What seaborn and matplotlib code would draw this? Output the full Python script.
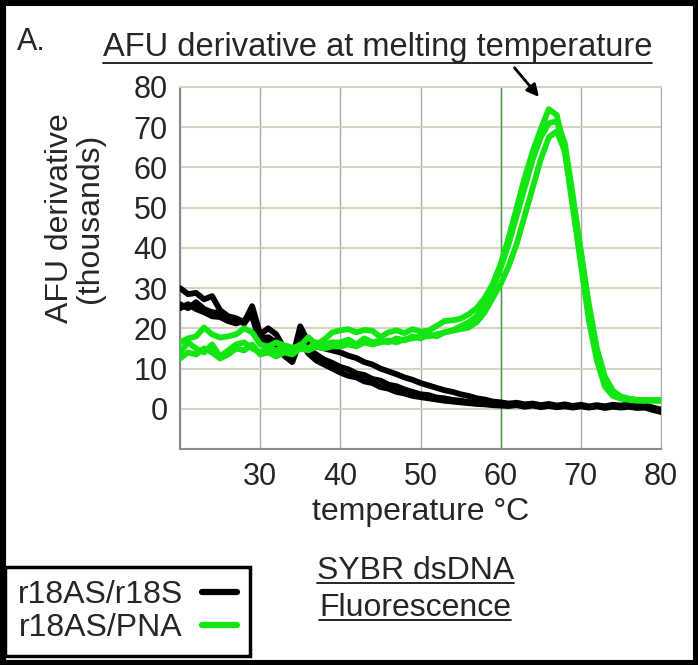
import pandas as pd
import seaborn as sns
from matplotlib import pyplot as plt
from matplotlib.lines import Line2D
from matplotlib.patches import Rectangle

# Temperature axis (degrees C), one reading per degree.
temps = list(range(20, 81))

# r18AS/r18S runs (black), AFU derivative in thousands.
r18s_a = [30, 28.5, 28.8, 27.2, 28, 24.5, 23, 22.5, 21.5, 25.5,
          18.5, 20, 18.5, 15, 12.5, 20.5, 16.5, 15.5, 15, 14.5,
          14, 13.2, 12.6, 11.6, 11, 10, 9.3, 8.6, 7.8, 7.2,
          6.4, 5.8, 5.2, 4.6, 4.2, 3.6, 3.2, 2.6, 2.3, 1.8,
          1.6, 1.3, 1.5, 1.1, 1.3, 0.9, 1.2, 0.8, 1.1, 0.7,
          1.0, 0.6, 0.9, 0.6, 1.0, 0.8, 1.1, 0.7, 0.9, 0.3, -0.2]
r18s_b = [26, 25, 26.5, 24.8, 24, 23.8, 22.5, 22.3, 21.2, 24,
          17.5, 17.8, 16.5, 14.5, 12, 19, 14.8, 13.5, 12.2, 11.4,
          10.4, 9.8, 8.8, 8.4, 7.4, 7, 6, 5.6, 4.8, 4.2,
          3.6, 3.4, 2.8, 2.6, 2.2, 2, 1.7, 1.5, 1.3, 1.1,
          1.0, 0.8, 1.1, 0.7, 1.0, 0.6, 0.9, 0.5, 0.8, 0.5,
          0.8, 0.4, 0.7, 0.5, 0.8, 0.5, 0.7, 0.4, 0.5, -0.1, -0.6]
r18s_c = [25, 26, 24.8, 24, 23, 22.8, 21.8, 21.2, 22, 23,
          16.2, 16.4, 15.2, 13.2, 11.6, 17, 13.8, 12, 11, 10,
          9, 8.2, 7.8, 6.8, 6.4, 5.4, 5, 4.2, 3.8, 3.2,
          2.9, 2.6, 2.3, 2.0, 1.8, 1.6, 1.4, 1.2, 1.1, 0.9,
          0.8, 0.7, 0.9, 0.5, 0.8, 0.4, 0.7, 0.4, 0.6, 0.3,
          0.6, 0.3, 0.6, 0.2, 0.5, 0.3, 0.5, 0.2, 0.3, -0.3, -0.8]

# r18AS/PNA runs (green).
pna_a = [16.5, 17.5, 18, 20.2, 18.5, 17.7, 18, 18.5, 20, 19,
         16, 15.5, 16.5, 15.8, 15.2, 15.6, 17.8, 16, 17.2, 19,
         19.5, 19.8, 19, 19.6, 19.4, 17.8, 19, 19.5, 18.8, 19.8,
         19.2, 19.4, 20.6, 21.8, 22, 22.4, 23.5, 25, 27.5, 31,
         36, 42.5, 50, 57.5, 64, 69.5, 74.5, 73, 64, 50,
         36, 22, 12, 5.5, 3.2, 2.5, 2.2, 2.0, 2.0, 2.2, 2.2]
pna_b = [14, 16.5, 15, 14, 16, 13, 14.5, 16, 16.5, 15,
         14, 15, 14.5, 15.5, 14.5, 16, 15, 16.5, 16, 16.5,
         16.5, 17.2, 16, 17.5, 16.5, 17, 16.5, 17.5, 17, 18,
         17.5, 18.5, 18, 19, 19.5, 20.5, 21.5, 23, 26, 30,
         35, 41, 48, 55, 62, 67.5, 71, 71.5, 66, 53,
         39, 25, 14, 7, 4, 3, 2.5, 2.2, 2.0, 2.1, 2.0]
pna_c = [12.5, 14, 13.5, 15, 14, 12.5, 13.5, 15, 14.5, 16,
         13.5, 14, 13, 14, 13.5, 15, 14.5, 15.5, 15, 15.5,
         15.5, 16, 15.5, 16.5, 16, 16.5, 17, 16.5, 17.3, 17.5,
         18, 18, 18.5, 19, 19.4, 19.8, 20.2, 21.5, 24, 27.5,
         31, 35.5, 41, 48, 55, 62, 67.5, 69, 64, 52,
         39, 26, 15, 8, 4.5, 3, 2.5, 2.2, 2.2, 2.0, 2.0]

x_ticks = [20, 30, 40, 50, 60, 70, 80]
x_labels = ["", "30", "40", "50", "60", "70", "80"]
y_ticks = [-10, 0, 10, 20, 30, 40, 50, 60, 70, 80]
y_labels = [""] + [str(v) for v in y_ticks[1:]]

runs = {
    ("r18AS/r18S", "a"): r18s_a,
    ("r18AS/r18S", "b"): r18s_b,
    ("r18AS/r18S", "c"): r18s_c,
    ("r18AS/PNA", "a"): pna_a,
    ("r18AS/PNA", "b"): pna_b,
    ("r18AS/PNA", "c"): pna_c,
}
df = pd.concat(
    [pd.DataFrame({"temp": temps, "afu": vals, "pair": pair, "run": f"{pair}-{r}"})
     for (pair, r), vals in runs.items()],
    ignore_index=True,
)

sns.set_style("white")
plt.rcParams["font.family"] = ["Liberation Sans", "DejaVu Sans"]

fig = plt.figure(figsize=(6.98, 6.65), dpi=100)
ax = fig.add_axes([0.2579, 0.3248, 0.6891, 0.5444])

palette = {"r18AS/r18S": "black", "r18AS/PNA": "#14e614"}
sns.lineplot(data=df, x="temp", y="afu", hue="pair", units="run", estimator=None,
             palette=palette, linewidth=4.2, ax=ax, zorder=3)

ax.set_xlim(20, 80)
ax.set_ylim(-10, 80)
ax.set_xticks(x_ticks, x_labels)
ax.set_yticks(y_ticks, y_labels)
ax.set_axisbelow(True)
ax.grid(axis="x", color="#ababab", lw=1)
ax.grid(axis="y", color="#d6d3c3", lw=1.5)
ax.axvline(60, color="#3f9f3f", lw=1, zorder=2)
ax.tick_params(length=0, labelsize=22, pad=9)
for side in ("left", "bottom"):
    ax.spines[side].set_color("#8a8a8a")
    ax.spines[side].set_linewidth(1.5)
ax.spines["right"].set_color("#ababab")
ax.spines["top"].set_color("#d6d3c3")
ax.spines["top"].set_linewidth(1.5)

ax.set_xlabel("temperature °C", fontsize=23)
ax.xaxis.set_label_coords(0.5, -0.174)
ax.xaxis.label.set_va("center")
ax.set_ylabel("AFU derivative\n(thousands)", fontsize=23, linespacing=1.0)
ax.yaxis.set_label_coords(-0.218, 0.638)
ax.yaxis.label.set_va("center")

ax.annotate("", xy=(65.0, 77), xytext=(61.5, 85.3), annotation_clip=False,
            arrowprops=dict(arrowstyle="-|>", color="black", lw=2, mutation_scale=18))

# Legend relocated to the bottom-left corner, keys after the labels.
handles, labels = ax.get_legend_handles_labels()
ax.get_legend().remove()
for h in handles:
    h.set_linewidth(4.5)
fig.legend(handles, labels, loc="lower left", bbox_to_anchor=(0.007, 0.014),
           markerfirst=False, fontsize=23, frameon=True, fancybox=False,
           edgecolor="black", framealpha=1, handlelength=1.1, handletextpad=0.6,
           labelspacing=0.1, borderpad=0.4, borderaxespad=0)
fig.legends[0].get_frame().set_linewidth(2.5)

fig.text(0.024, 0.937, "A.", fontsize=22, ha="left", va="center")
title = fig.text(0.541, 0.929, "AFU derivative at melting temperature",
                 fontsize=23.5, ha="center", va="center")
sybr = fig.text(0.595, 0.142, "SYBR dsDNA", fontsize=23, ha="center", va="center")
fluo = fig.text(0.595, 0.085, "Fluorescence", fontsize=23, ha="center", va="center")

fig.canvas.draw()
inv = fig.transFigure.inverted()
for t, gap in ((title, 0), (sybr, 3), (fluo, 3)):
    bb = t.get_window_extent()
    (x0, y0), (x1, _) = inv.transform([(bb.x0, bb.y0 + gap), (bb.x1, bb.y0 + gap)])
    fig.add_artist(Line2D([x0, x1], [y0, y0], color="black", lw=1.2))

fig.add_artist(Rectangle((0, 0), 1, 1, transform=fig.transFigure, fill=False,
                         ec="black", lw=8))

fig.savefig("out.png", dpi=100)
